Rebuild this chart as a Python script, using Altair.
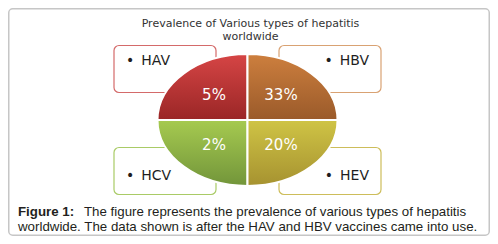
import altair as alt
import pandas as pd

# ---------------- data ----------------
categories = ["HAV", "HBV", "HCV", "HEV"]
prevalence = [5, 33, 2, 20]  # percent
title_lines = ["Prevalence of Various types of hepatitis", "worldwide"]
caption_bold = "Figure 1:"
caption_line1 = "The figure represents the prevalence of various types of hepatitis"
caption_line2 = "worldwide. The data shown is after the HAV and HBV vaccines came into use."

# ---------------- layout / style ----------------
quad_col = [-1, 1, -1, 1]
quad_row = [-1, -1, 1, 1]
grad_top = ["#d64545", "#cd7f3e", "#a6ca50", "#cfc445"]
grad_bot = ["#9a2626", "#9a5a2a", "#72953a", "#a69230"]
box_stroke = ["#d46a6a", "#d9a273", "#a9cb66", "#cdbd5a"]

W, H = 482, 228
CX, CY, RX, RY = 247.5, 120.0, 90.0, 66.0
K = 0.5523
B = RY / RX

rows = []
for i, c in enumerate(categories):
    col, row = quad_col[i], quad_row[i]
    bx = CX + col * 82.5
    by = CY + row * 51
    path = (f"M0,0 L{col},0 C{col},{row * B * K:.4f} {col * K:.4f},{row * B:.4f} "
            f"0,{row * B:.4f} Z")
    rows.append(dict(
        cat=c, pct=f"{prevalence[i]}%", col=col, row=row, path=path,
        cx=CX, cy=CY,
        bx1=bx - 51, bx2=bx + 51, by1=by - 23.5, by2=by + 23.5,
        lx=(bx - 51 + 12) if col < 0 else (bx + 51 - 12),
        ly=(by - 23.5 + 19.5) if row < 0 else (by + 23.5 - 15),
        label="\u2022\u2002" + c,
        px=CX + col * 33.5, py=CY + row * 25 + 5,
    ))
df = pd.DataFrame(rows)

xs = alt.Scale(domain=[8, 8 + W])
ys = alt.Scale(domain=[8, 8 + H], reverse=True)


def X(f):
    return alt.X(f"{f}:Q", scale=xs, axis=None)


def Y(f):
    return alt.Y(f"{f}:Q", scale=ys, axis=None)


base = alt.Chart(df)

frame = alt.Chart(pd.DataFrame({"a": [0]})).mark_rect(
    fill="white", stroke="#c6c6c6", strokeWidth=1.5, cornerRadius=4
).encode(x=alt.value(0.75), x2=alt.value(W - 0.75), y=alt.value(0.75), y2=alt.value(H - 0.75))

boxes = base.mark_rect(fill="white", strokeWidth=1.2, cornerRadius=5).encode(
    x=X("bx1"), x2=alt.X2("bx2"), y=Y("by1"), y2=alt.Y2("by2"),
    stroke=alt.Stroke("cat:N", scale=alt.Scale(domain=categories, range=box_stroke), legend=None),
)

quads = []
for i, c in enumerate(categories):
    grad = {
        "gradient": "linear", "x1": 0, "y1": 0, "x2": 0, "y2": 1,
        "stops": [{"offset": 0, "color": grad_top[i]}, {"offset": 1, "color": grad_bot[i]}],
    }
    quads.append(
        base.transform_filter(alt.datum.cat == c).mark_point(
            shape=df.loc[i, "path"], size=(2 * RX) ** 2, filled=True, fill=grad,
            stroke="white", strokeWidth=2, opacity=1, fillOpacity=1, strokeOpacity=1,
        ).encode(x=X("cx"), y=Y("cy"))
    )

lab_left = base.transform_filter(alt.datum.col < 0).mark_text(
    align="left", baseline="alphabetic", font="DejaVu Sans", fontSize=14, color="#1e1e1e"
).encode(x=X("lx"), y=Y("ly"), text="label:N")
lab_right = base.transform_filter(alt.datum.col > 0).mark_text(
    align="right", baseline="alphabetic", font="DejaVu Sans", fontSize=14, color="#1e1e1e"
).encode(x=X("lx"), y=Y("ly"), text="label:N")

pcts = base.mark_text(
    align="center", baseline="alphabetic", font="DejaVu Sans", fontSize=15, color="white"
).encode(x=X("px"), y=Y("py"), text="pct:N")

title_df = pd.DataFrame({"t": title_lines, "x": [250.5, 250.5], "y": [27, 40]})
title = alt.Chart(title_df).mark_text(
    align="center", baseline="alphabetic", font="DejaVu Sans", fontSize=11, color="#333333"
).encode(x=X("x"), y=Y("y"), text="t:N")

cap_df = pd.DataFrame({
    "t": [caption_bold, caption_line1, caption_line2],
    "x": [18, 84, 18], "y": [216, 216, 231], "w": ["bold", "normal", "normal"],
})
cap_bold = alt.Chart(cap_df).transform_filter(alt.datum.w == "bold").mark_text(
    align="left", baseline="alphabetic", font="Liberation Sans", fontSize=13.3,
    fontWeight="bold", color="#231f20"
).encode(x=X("x"), y=Y("y"), text="t:N")
cap_norm = alt.Chart(cap_df).transform_filter(alt.datum.w == "normal").mark_text(
    align="left", baseline="alphabetic", font="Liberation Sans", fontSize=13.3, color="#231f20"
).encode(x=X("x"), y=Y("y"), text="t:N")

chart = alt.layer(frame, boxes, *quads, lab_left, lab_right, pcts, title, cap_bold, cap_norm).properties(
    width=W, height=H, padding=0, autosize=alt.AutoSizeParams(type="none")
).configure_view(strokeWidth=0)

chart.save("out.html", embed_options={"renderer": "svg", "actions": False})
